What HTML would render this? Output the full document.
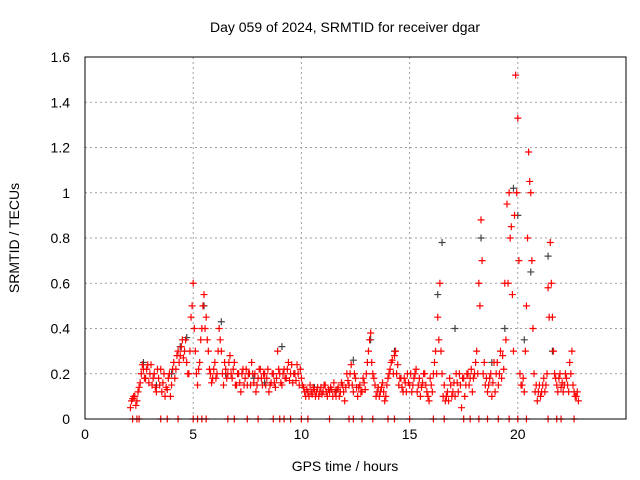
<!DOCTYPE html>
<html><head><meta charset="utf-8"><style>
body{margin:0;background:#fff;}
svg{display:block;font-family:"Liberation Sans",sans-serif;}
</style></head><body>
<svg id="chart" width="640" height="480" viewBox="0 0 640 480">
<rect width="640" height="480" fill="#fff"/>
<text x="345" y="32" font-size="14" text-anchor="middle">Day 059 of 2024, SRMTID for receiver dgar</text>
<text x="345" y="471" font-size="14" text-anchor="middle">GPS time / hours</text>
<text transform="translate(19,238) rotate(-90)" font-size="14" text-anchor="middle">SRMTID / TECUs</text>
<g id="grid"></g>
<g id="ticks"></g>
<g id="marks"></g>
<rect x="85" y="57" width="541" height="362" fill="none" stroke="#000" stroke-width="1"/>
</svg>
<script>
const xTicks=[0,5,10,15,20];
const yTicks=[0,0.2,0.4,0.6,0.8,1,1.2,1.4,1.6];
const yTickLabels=["0","0.2","0.4","0.6","0.8","1","1.2","1.4","1.6"];
const times=[2.1,2.2,2.3,2.4,2.5,2.6,2.7,2.8,2.9,3.0,3.1,3.2,3.3,3.4,3.5,3.6,3.7,3.8,3.9,4.0,4.1,4.2,4.3,4.4,4.5,4.6,4.7,4.8,4.9,5.0,5.1,5.2,5.3,5.4,5.5,5.6,5.7,5.8,5.9,6.0,6.1,6.2,6.3,6.4,6.5,6.6,6.7,6.8,6.9,7.0,7.1,7.2,7.3,7.4,7.5,7.6,7.7,7.8,7.9,8.0,8.1,8.2,8.3,8.4,8.5,8.6,8.7,8.8,8.9,9.0,9.1,9.2,9.3,9.4,9.5,9.6,9.7,9.8,9.9,10.0,10.1,10.2,10.3,10.4,10.5,10.6,10.7,10.8,10.9,11.0,11.1,11.2,11.3,11.4,11.5,11.6,11.7,11.8,11.9,12.0,12.1,12.2,12.3,12.4,12.5,12.6,12.7,12.8,12.9,13.0,13.1,13.2,13.3,13.4,13.5,13.6,13.7,13.8,13.9,14.0,14.1,14.2,14.3,14.4,14.5,14.6,14.7,14.8,14.9,15.0,15.1,15.2,15.3,15.4,15.5,15.6,15.7,15.8,15.9,16.0,16.1,16.2,16.3,16.4,16.5,16.6,16.7,16.8,16.9,17.0,17.1,17.2,17.3,17.4,17.5,17.6,17.7,17.8,17.9,18.0,18.1,18.2,18.3,18.4,18.5,18.6,18.7,18.8,18.9,19.0,19.1,19.2,19.3,19.4,19.5,19.6,19.7,19.8,19.9,20.0,20.1,20.2,20.3,20.4,20.5,20.6,20.7,20.8,20.9,21.0,21.1,21.2,21.3,21.4,21.5,21.6,21.7,21.8,21.9,22.0,22.1,22.2,22.3,22.4,22.5,22.6,22.7,22.8];
const srmtid=[0.05,0.09,0.1,0.08,0.14,0.2,0.22,0.18,0.24,0.2,0.15,0.2,0.12,0.18,0.22,0.16,0.1,0.13,0.2,0.15,0.25,0.22,0.3,0.28,0.35,0.3,0.25,0.2,0.45,0.6,0.3,0.15,0.25,0.4,0.55,0.45,0.3,0.2,0.18,0.25,0.2,0.4,0.3,0.15,0.22,0.2,0.28,0.18,0.25,0.15,0.2,0.12,0.22,0.18,0.15,0.2,0.25,0.16,0.12,0.18,0.22,0.15,0.2,0.18,0.12,0.16,0.2,0.14,0.3,0.2,0.15,0.22,0.18,0.25,0.2,0.16,0.2,0.24,0.15,0.18,0.14,0.1,0.12,0.15,0.11,0.13,0.12,0.1,0.14,0.12,0.15,0.1,0.12,0.13,0.16,0.1,0.14,0.12,0.15,0.08,0.2,0.15,0.24,0.12,0.18,0.1,0.15,0.12,0.16,0.2,0.3,0.38,0.2,0.15,0.12,0.1,0.14,0.12,0.1,0.18,0.22,0.26,0.28,0.2,0.15,0.18,0.12,0.16,0.2,0.15,0.12,0.18,0.22,0.15,0.1,0.16,0.2,0.12,0.08,0.15,0.2,0.3,0.45,0.6,0.2,0.15,0.1,0.08,0.15,0.12,0.1,0.16,0.2,0.05,0.18,0.15,0.2,0.18,0.12,0.2,0.3,0.6,0.88,0.2,0.15,0.12,0.18,0.1,0.25,0.2,0.15,0.3,0.28,0.6,0.95,1.0,0.85,0.3,1.52,1.33,0.2,0.15,0.12,0.5,1.18,1.0,0.4,0.12,0.08,0.15,0.12,0.18,0.15,0.58,0.78,0.45,0.2,0.15,0.18,0.14,0.12,0.2,0.15,0.25,0.3,0.12,0.1,0.08];
const times2=[2.15,2.25,2.35,2.45,2.55,2.65,2.75,2.85,2.95,3.05,3.15,3.25,3.35,3.45,3.55,3.65,3.75,3.85,3.95,4.05,4.15,4.25,4.35,4.45,4.55,4.65,4.75,4.85,4.95,5.05,5.15,5.25,5.35,5.45,5.55,5.65,5.75,5.85,5.95,6.05,6.15,6.25,6.35,6.45,6.55,6.65,6.75,6.85,6.95,7.05,7.15,7.25,7.35,7.45,7.55,7.65,7.75,7.85,7.95,8.05,8.15,8.25,8.35,8.45,8.55,8.65,8.75,8.85,8.95,9.05,9.15,9.25,9.35,9.45,9.55,9.65,9.75,9.85,9.95,10.05,10.15,10.25,10.35,10.45,10.55,10.65,10.75,10.85,10.95,11.05,11.15,11.25,11.35,11.45,11.55,11.65,11.75,11.85,11.95,12.05,12.15,12.25,12.35,12.45,12.55,12.65,12.75,12.85,12.95,13.05,13.15,13.25,13.35,13.45,13.55,13.65,13.75,13.85,13.95,14.05,14.15,14.25,14.35,14.45,14.55,14.65,14.75,14.85,14.95,15.05,15.15,15.25,15.35,15.45,15.55,15.65,15.75,15.85,15.95,16.05,16.15,16.25,16.35,16.45,16.55,16.65,16.75,16.85,16.95,17.05,17.15,17.25,17.35,17.45,17.55,17.65,17.75,17.85,17.95,18.05,18.15,18.25,18.35,18.45,18.55,18.65,18.75,18.85,18.95,19.05,19.15,19.25,19.35,19.45,19.55,19.65,19.75,19.85,19.95,20.05,20.15,20.25,20.35,20.45,20.55,20.65,20.75,20.85,20.95,21.05,21.15,21.25,21.35,21.45,21.55,21.65,21.75,21.85,21.95,22.05,22.15,22.25,22.35,22.45,22.55,22.65,22.75];
const srmtid2=[0.08,0.1,0.06,0.12,0.16,0.24,0.18,0.22,0.16,0.24,0.18,0.14,0.22,0.15,0.12,0.2,0.14,0.18,0.1,0.22,0.18,0.28,0.25,0.32,0.27,0.35,0.2,0.3,0.5,0.4,0.2,0.22,0.35,0.5,0.4,0.35,0.22,0.16,0.22,0.18,0.3,0.35,0.2,0.25,0.18,0.25,0.2,0.22,0.15,0.2,0.16,0.2,0.15,0.22,0.2,0.15,0.2,0.2,0.15,0.22,0.18,0.2,0.15,0.22,0.15,0.2,0.16,0.18,0.22,0.16,0.2,0.18,0.22,0.17,0.24,0.2,0.17,0.2,0.22,0.15,0.12,0.13,0.1,0.12,0.14,0.1,0.14,0.12,0.11,0.15,0.12,0.13,0.14,0.1,0.12,0.13,0.1,0.16,0.12,0.14,0.17,0.2,0.15,0.2,0.14,0.14,0.12,0.18,0.13,0.25,0.35,0.25,0.18,0.1,0.14,0.12,0.16,0.08,0.15,0.2,0.25,0.2,0.3,0.24,0.18,0.14,0.18,0.12,0.16,0.2,0.15,0.2,0.12,0.18,0.14,0.2,0.15,0.1,0.18,0.12,0.25,0.2,0.35,0.3,0.1,0.08,0.12,0.18,0.1,0.16,0.2,0.12,0.15,0.18,0.1,0.2,0.15,0.22,0.18,0.25,0.2,0.5,0.7,0.25,0.18,0.15,0.2,0.16,0.12,0.25,0.2,0.18,0.22,0.35,0.6,0.8,0.55,0.9,1.0,0.7,0.15,0.18,0.3,0.8,1.05,0.7,0.2,0.15,0.12,0.1,0.15,0.12,0.2,0.45,0.6,0.3,0.18,0.12,0.2,0.16,0.15,0.18,0.12,0.2,0.15,0.1,0.12];
const extraTimes=[2.7,3.3,4.0,4.4,4.7,5.5,6.3,6.5,7.8,8.3,9.1,9.7,10.6,11.6,12.4,13.2,14.3,16.3,16.5,17.1,18.3,18.8,19.4,19.8,20.0,20.3,20.6,21.4,21.6];
const extraVals=[0.25,0.15,0.2,0.32,0.36,0.5,0.43,0.2,0.18,0.16,0.32,0.2,0.14,0.12,0.26,0.35,0.3,0.55,0.78,0.4,0.8,0.25,0.4,1.02,0.9,0.35,0.65,0.72,0.3];
const zeroTimes=[2.2,2.4,2.5,3.5,3.8,4.3,5.0,5.2,5.4,5.6,6.6,6.9,7.5,8.0,8.7,9.0,9.2,9.5,10.0,10.3,11.3,12.2,12.4,12.8,13.3,14.0,14.3,15.0,16.1,16.6,17.5,17.8,18.2,18.6,19.1,19.6,20.0,20.4,21.4,21.8,22.0,22.6];

const X0=85,X1=626,Y0=419,Y1=57;
const xs=t=>X0+(t/25)*(X1-X0);
const ys=v=>Y0-(v/1.6)*(Y0-Y1);
const NS="http://www.w3.org/2000/svg";
function mk(tag,attrs,parent){const e=document.createElementNS(NS,tag);for(const k in attrs)e.setAttribute(k,attrs[k]);parent.appendChild(e);return e;}
const grid=document.getElementById('grid'),ticks=document.getElementById('ticks'),marks=document.getElementById('marks');
xTicks.forEach(t=>{
  const x=xs(t);
  if(t>0){const g=mk('line',{x1:x,x2:x,y1:Y1,y2:Y0,stroke:'#a0a0a0','stroke-dasharray':'2,3'},grid);
  
  }
  const l=mk('text',{x:x,y:Y0+20,'font-size':14,'text-anchor':'middle'},ticks);l.textContent=t;
  
  
});
yTicks.forEach((v,i)=>{
  const y=ys(v);
  if(v>0&&v<1.6){const g=mk('line',{x1:X0,x2:X1,y1:y,y2:y,stroke:'#a0a0a0','stroke-dasharray':'2,3'},grid);
  
  }
  const l=mk('text',{x:70,y:y+5,'font-size':14,'text-anchor':'end'},ticks);l.textContent=yTickLabels[i];
  
  
});
function plus(t,v,color,name){
  const x=xs(t),y=ys(v);
  const p=mk('path',{d:`M${x-3.5},${y}h7M${x},${y-3.5}v7`,stroke:color,'stroke-width':1.2,fill:'none'},marks);
  
  
}
extraTimes.forEach((t,i)=>plus(t,extraVals[i],'#444','point-gray'));
times2.forEach((t,i)=>plus(t,srmtid2[i],'#ff0000','point-red'));
times.forEach((t,i)=>plus(t,srmtid[i],'#ff0000','point-red'));
zeroTimes.forEach(t=>plus(t,0,'#ff0000','point-zero'));
</script>
</body></html>
